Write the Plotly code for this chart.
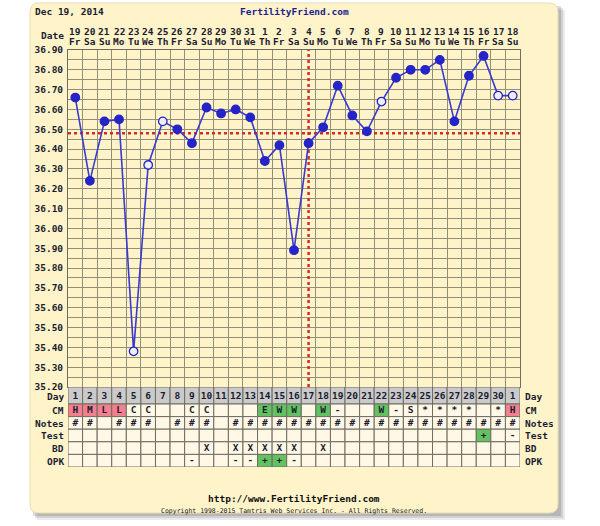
import plotly.graph_objects as go

# ---------------- data ----------------
cycle_days = list(range(1, 32))
day_labels = [str(k) for k in range(1, 31)] + ["1"]
dates = [19, 20, 21, 22, 23, 24, 25, 26, 27, 28, 29, 30, 31,
         1, 2, 3, 4, 5, 6, 7, 8, 9, 10, 11, 12, 13, 14, 15, 16, 17, 18]
weekdays = ["Fr", "Sa", "Su", "Mo", "Tu", "We", "Th", "Fr", "Sa", "Su", "Mo", "Tu", "We",
            "Th", "Fr", "Sa", "Su", "Mo", "Tu", "We", "Th", "Fr", "Sa", "Su", "Mo", "Tu",
            "We", "Th", "Fr", "Sa", "Su"]
temps = [36.66, 36.24, 36.54, 36.55, 35.38, 36.32, 36.54, 36.50, 36.43, 36.61,
         36.58, 36.60, 36.56, 36.34, 36.42, 35.89, 36.43, 36.51, 36.72, 36.57,
         36.49, 36.64, 36.76, 36.80, 36.80, 36.85, 36.54, 36.77, 36.87, 36.67, 36.67]
discarded = [False, False, False, False, True, True, True, False, False, False,
             False, False, False, False, False, False, False, False, False, False,
             False, True, False, False, False, False, False, False, False, True, True]
coverline = 36.48
ovulation_day = 17
temp_ticks = [round(35.20 + 0.10 * i, 2) for i in range(18)]

cm = ["H", "M", "L", "L", "C", "C", "", "", "C", "C", "", "", "", "E", "W", "W",
      "", "W", "-", "", "", "W", "-", "S", "*", "*", "*", "*", "", "*", "H"]
notes = ["#", "#", "", "#", "#", "#", "", "#", "#", "#", "", "#", "#", "#", "#", "#",
         "#", "#", "#", "#", "#", "#", "#", "#", "#", "#", "#", "#", "#", "#", "#"]
test = [""] * 28 + ["+", "", "-"]
bd = ["", "", "", "", "", "", "", "", "", "X", "", "X", "X", "X", "X", "X",
      "", "X", "", "", "", "", "", "", "", "", "", "", "", "", ""]
opk = ["", "", "", "", "", "", "", "", "-", "", "", "-", "-", "+", "+", "-",
       "", "", "", "", "", "", "", "", "", "", "", "", "", "", ""]
row_names = ["Day", "CM", "Notes", "Test", "BD", "OPK"]

# ---------------- layout constants (pixels) ----------------
W, H = 600, 526
PL, PR, PT, TB, PB = 68, 520, 50, 387, 467
ML, MR, MT, MB = PL, W - PR, PT, H - PB
plot_h = PB - PT
temp_frac = (PB - TB) / plot_h
row_edges = [0, 17, 29.6, 42.2, 54.8, 67.4, 80]

FONT = "DejaVu Sans Mono"
TXT = "#1c1c30"
PANEL = "#FFF4C9"
PLOTBG = "#FFF1BA"
GRID = "#948f78"
CELL = "#FFF8E6"
DAYROW = "#CACACA"
PINK = "#F2808E"
GREEN = "#62C262"
BLUE = "#2424C8"


def xp(x):
    return (x - PL) / (PR - PL)


def yp(y):
    return (PB - y) / plot_h


fig = go.Figure()

shapes = []
# panel shadow + panel
for off, op in [(7, 0.10), (5, 0.14), (3, 0.18)]:
    x0, x1, y0, y1 = xp(30 + off), xp(558 + off), yp(3 + off), yp(513 + off)
    shapes.append(dict(type="rect", xref="paper", yref="paper", x0=x0, x1=x1, y0=y0, y1=y1,
                       fillcolor=f"rgba(60,60,60,{op})", line=dict(width=0), layer="below"))
r = 9
x0p, x1p, y0p, y1p = 30, 558, 3, 513
path = (f"M {xp(x0p + r)},{yp(y0p)} L {xp(x1p - r)},{yp(y0p)} "
        f"Q {xp(x1p)},{yp(y0p)} {xp(x1p)},{yp(y0p + r)} L {xp(x1p)},{yp(y1p - r)} "
        f"Q {xp(x1p)},{yp(y1p)} {xp(x1p - r)},{yp(y1p)} L {xp(x0p + r)},{yp(y1p)} "
        f"Q {xp(x0p)},{yp(y1p)} {xp(x0p)},{yp(y1p - r)} L {xp(x0p)},{yp(y0p + r)} "
        f"Q {xp(x0p)},{yp(y0p)} {xp(x0p + r)},{yp(y0p)} Z")
shapes.append(dict(type="path", xref="paper", yref="paper", path=path,
                   fillcolor=PANEL, line=dict(color="#E8DDB0", width=1), layer="below"))

# table cells
rows = [day_labels, cm, notes, test, bd, opk]


def cell_color(ri, v):
    if ri == 0:
        return DAYROW
    if ri == 1 and v in ("H", "M", "L"):
        return PINK
    if ri == 1 and v in ("E", "W"):
        return GREEN
    if ri in (3, 5) and v == "+":
        return GREEN
    return CELL


for ri in range(6):
    for i, d in enumerate(cycle_days):
        v = rows[ri][i]
        shapes.append(dict(type="rect", xref="x", yref="y2", x0=d - 0.5, x1=d + 0.5,
                           y0=row_edges[ri], y1=row_edges[ri + 1],
                           fillcolor=cell_color(ri, v), line=dict(color="#6f6c60", width=1),
                           layer="between"))

# coverline and ovulation line
shapes.append(dict(type="line", xref="x", yref="y", x0=0.5, x1=31.5, y0=coverline, y1=coverline,
                   line=dict(color="#D8282A", width=2.5, dash="dot"), layer="between"))
shapes.append(dict(type="line", xref="x", yref="y", x0=ovulation_day, x1=ovulation_day,
                   y0=35.20, y1=36.90, line=dict(color="#D8282A", width=2.5, dash="dot"),
                   layer="between"))

# temperature line + markers
fig.add_trace(go.Scatter(
    x=cycle_days, y=temps, mode="lines+markers", xaxis="x", yaxis="y",
    line=dict(color="#3a3ad0", width=1.6),
    marker=dict(size=8.5, color=["#EEEEFF" if o else BLUE for o in discarded],
                line=dict(color=BLUE, width=1.3)),
    hoverinfo="skip", showlegend=False, cliponaxis=False))

# table text
tx, ty, tt = [], [], []
for ri in range(6):
    for i, d in enumerate(cycle_days):
        v = rows[ri][i]
        if v:
            tx.append(d)
            ty.append((row_edges[ri] + row_edges[ri + 1]) / 2 + (0.8 if ri == 0 else 0.3))
            tt.append(f"<b>{v}</b>")
fig.add_trace(go.Scatter(x=tx, y=ty, text=tt, mode="text", xaxis="x", yaxis="y2",
                         textfont=dict(family=FONT, size=9.5, color=TXT),
                         hoverinfo="skip", showlegend=False, cliponaxis=False))

annotations = []
afont = dict(family=FONT, size=9.5, color=TXT)
# date header
for i, d in enumerate(cycle_days):
    annotations.append(dict(x=d, y=yp(31), xref="x", yref="paper", text=f"<b>{dates[i]}</b>",
                            xanchor="center", yanchor="middle", showarrow=False, font=afont))
    annotations.append(dict(x=d, y=yp(42), xref="x", yref="paper", text=f"<b>{weekdays[i]}</b>",
                            xanchor="center", yanchor="middle", showarrow=False, font=afont))
annotations.append(dict(x=xp(66), y=yp(35), xref="paper", yref="paper", text="<b>Date</b>",
                        xanchor="right", yanchor="middle", showarrow=False, font=afont))
# row labels
for ri, name in enumerate(row_names):
    yc = (row_edges[ri] + row_edges[ri + 1]) / 2 + (1.2 if ri == 0 else 0.3)
    annotations.append(dict(x=xp(66), y=yc, xref="paper", yref="y2", text=f"<b>{name}</b>",
                            xanchor="right", yanchor="middle", showarrow=False, font=afont))
    annotations.append(dict(x=xp(523), y=yc, xref="paper", yref="y2", text=f"<b>{name}</b>",
                            xanchor="left", yanchor="middle", showarrow=False, font=afont))
# titles
annotations.append(dict(x=xp(33), y=yp(12), xref="paper", yref="paper", text="<b>Dec 19, 2014</b>",
                        xanchor="left", yanchor="middle", showarrow=False, font=afont))
annotations.append(dict(x=xp(294), y=yp(12), xref="paper", yref="paper", text="<b>FertilityFriend.com</b>",
                        xanchor="center", yanchor="middle", showarrow=False,
                        font=dict(family=FONT, size=9.5, color="#1e1e8c")))
annotations.append(dict(x=xp(294), y=yp(498), xref="paper", yref="paper",
                        text="<b>http://www.FertilityFriend.com</b>",
                        xanchor="center", yanchor="middle", showarrow=False,
                        font=dict(family=FONT, size=9.5, color="#111111")))
annotations.append(dict(x=xp(294), y=yp(511), xref="paper", yref="paper",
                        text="Copyright 1998-2015 Tamtris Web Services Inc. - All Rights Reserved.",
                        xanchor="center", yanchor="middle", showarrow=False,
                        font=dict(family=FONT, size=6.5, color="#222222")))

tick_font = dict(family=FONT, size=9.5, color=TXT)
ticktext = [f"<b>{v:.2f}</b>" for v in temp_ticks]

fig.update_layout(
    width=W, height=H, margin=dict(l=ML, r=MR, t=MT, b=MB),
    paper_bgcolor="white", plot_bgcolor=PLOTBG,
    showlegend=False, shapes=shapes, annotations=annotations,
    xaxis=dict(range=[0.5, 31.5], anchor="y", tickvals=[k + 0.5 for k in range(0, 32)],
               showticklabels=False, ticks="", showgrid=True, gridcolor=GRID, gridwidth=1,
               showline=True, linecolor="#6f6c60", mirror=True, zeroline=False, fixedrange=True),
    yaxis=dict(domain=[temp_frac, 1], range=[35.20, 36.90], tickvals=temp_ticks, ticktext=ticktext,
               tickfont=tick_font, ticks="", ticklabelstandoff=2,
               showgrid=True, gridcolor=GRID, gridwidth=1,
               minor=dict(dtick=0.05, tick0=35.2, showgrid=True, gridcolor=GRID, gridwidth=1),
               showline=True, linecolor="#6f6c60", mirror=True, zeroline=False),
    yaxis3=dict(overlaying="y", side="right", anchor="x", range=[35.20, 36.90], tickvals=temp_ticks,
                ticktext=ticktext, tickfont=tick_font, ticks="", ticklabelstandoff=2,
                showgrid=False, zeroline=False),
    yaxis2=dict(domain=[0, temp_frac], range=[row_edges[-1], 0], showticklabels=False,
                showgrid=False, zeroline=False, ticks=""),
)

fig.write_html("out.html", config={"displayModeBar": False},
               post_script="document.body.style.margin='0';document.body.style.overflow='hidden';")
